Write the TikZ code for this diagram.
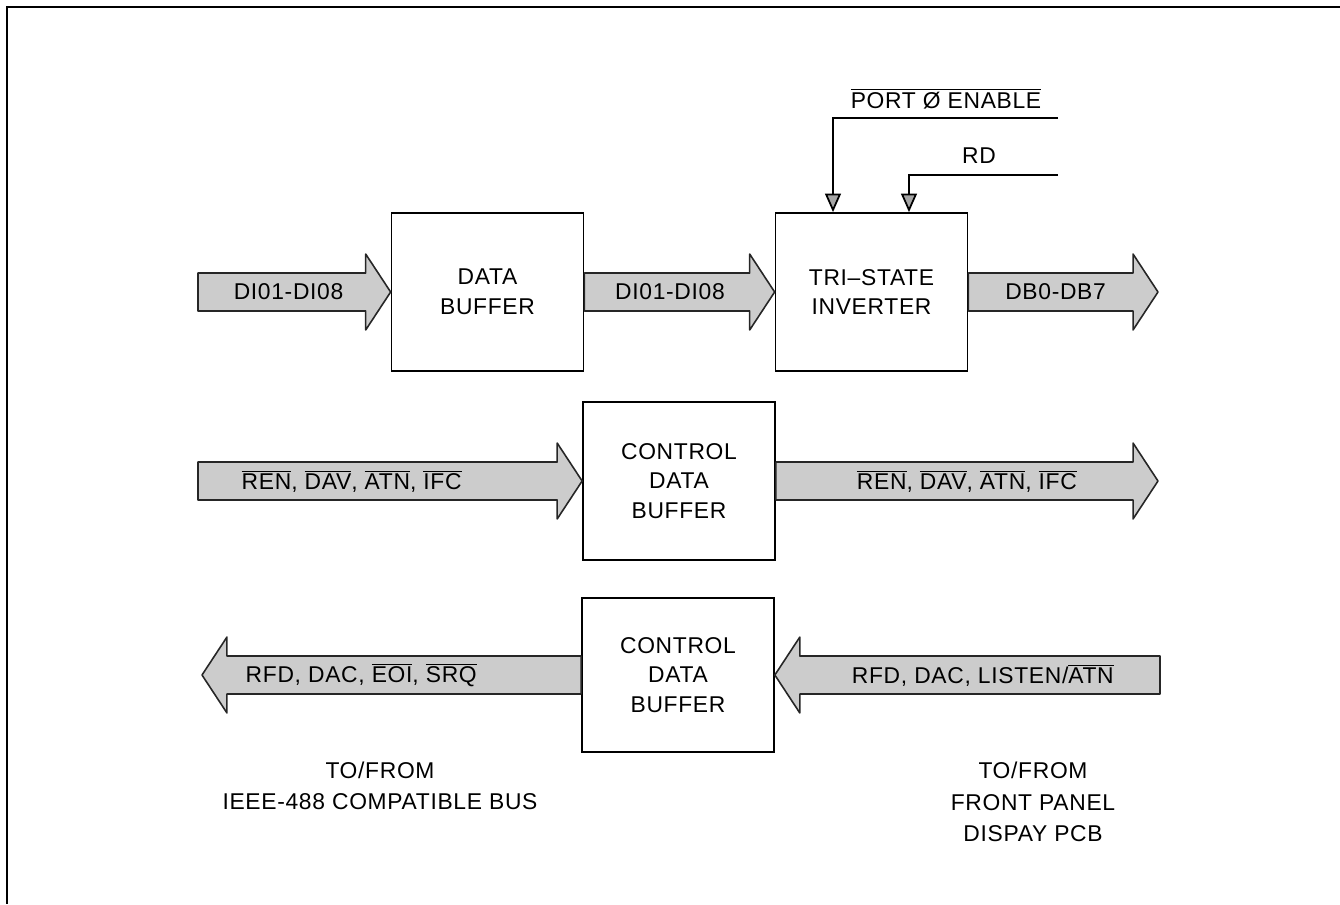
\documentclass[tikz,border=0pt]{standalone}
\usepackage{fontspec}
\setmainfont{Liberation Sans}[LetterSpace=3]
\usetikzlibrary{arrows.meta, calc}

\newcommand{\ovl}[1]{$\overline{\mbox{#1}}$}
\newcommand{\buswd}{10.8pt}
\newcommand{\bushd}{21.6pt}
\newcommand{\bushl}{14.2pt}
% wide bus arrow: tail, tip, label position, label
\newcommand{\bus}[4]{%
  \draw[busarrow] let \p1=(#1), \p2=(#2), \n1={sign(\x2-\x1)} in
    (\x1,\y1+\buswd) -- (\x2-\n1*\bushl,\y1+\buswd) -- (\x2-\n1*\bushl,\y1+\bushd)
    -- (\x2,\y1) -- (\x2-\n1*\bushl,\y1-\bushd) -- (\x2-\n1*\bushl,\y1-\buswd)
    -- (\x1,\y1-\buswd) -- cycle;
  \node[buslabel] at ($(#1)!#3!(#2)$) {#4};
}

\begin{document}
\begin{tikzpicture}[
  x=0.02cm, y=-0.02cm,
  font=\fontsize{13}{17}\selectfont,
  box/.style={draw, line width=1pt, rectangle, minimum width=3.84cm, minimum height=3.16cm, align=center},
  busarrow/.style={draw=black!85, line width=0.9pt, fill=black!20, line join=round},
  buslabel/.style={inner sep=0pt},
  ctl/.style={line width=1pt, -{Triangle[width=9pt, length=10.5pt, fill=black!35]}},
  note/.style={align=center, font=\fontsize{13}{18}\selectfont}
]
  \useasboundingbox (0,0) rectangle (1340,904);
  \draw[line width=1pt] (1340,7) -- (7,7) -- (7,904);

  % blocks
  \node[box] (dbuf) at (487.5,292) {DATA\\BUFFER};
  \node[box] (tsi) at (871.5,292) {TRI--STATE\\INVERTER};
  \node[box] (cbufa) at (679,481) {CONTROL\\DATA\\BUFFER};
  \node[box, minimum height=3.08cm] (cbufb) at (678,675) {CONTROL\\DATA\\BUFFER};

  % free bus ends
  \coordinate (in1) at (198,292);
  \coordinate (db) at (1158,292);
  \coordinate (in2) at (198,481);
  \coordinate (out2) at (1158,481);
  \coordinate (ieeeb) at (202,675);
  \coordinate (fpb) at (1160,675);

  % data path
  \bus{in1}{dbuf.west}{0.47}{DI01-DI08}
  \bus{dbuf.east}{tsi.west}{0.45}{DI01-DI08}
  \bus{tsi.east}{db}{0.46}{DB0-DB7}

  % control lines
  \bus{in2}{cbufa.west}{0.40}{\ovl{REN}, \ovl{DAV}, \ovl{ATN}, \ovl{IFC}}
  \bus{cbufa.east}{out2}{0.5}{\ovl{REN}, \ovl{DAV}, \ovl{ATN}, \ovl{IFC}}
  \bus{cbufb.west}{ieeeb}{0.58}{RFD, DAC, \ovl{EOI}, \ovl{SRQ}}
  \bus{fpb}{cbufb.east}{0.46}{RFD, DAC, LISTEN/\ovl{ATN}}

  % enables
  \coordinate (pe) at (1058,118);
  \coordinate (rd) at (1058,175);
  \draw[ctl] (pe) -| ([xshift=-0.77cm]tsi.north);
  \draw[ctl] (rd) -| ([xshift=0.75cm]tsi.north);
  \node (pelbl) at (946,99) {\ovl{PORT Ø ENABLE}};
  \node (rdlbl) at (979,156) {RD};

  % bus names
  \node[note] (ieee) at (380,786) {TO/FROM\\IEEE-488 COMPATIBLE BUS};
  \node[note] (fpanel) at (1033,802) {TO/FROM\\FRONT PANEL\\DISPAY PCB};

\end{tikzpicture}
\end{document}
